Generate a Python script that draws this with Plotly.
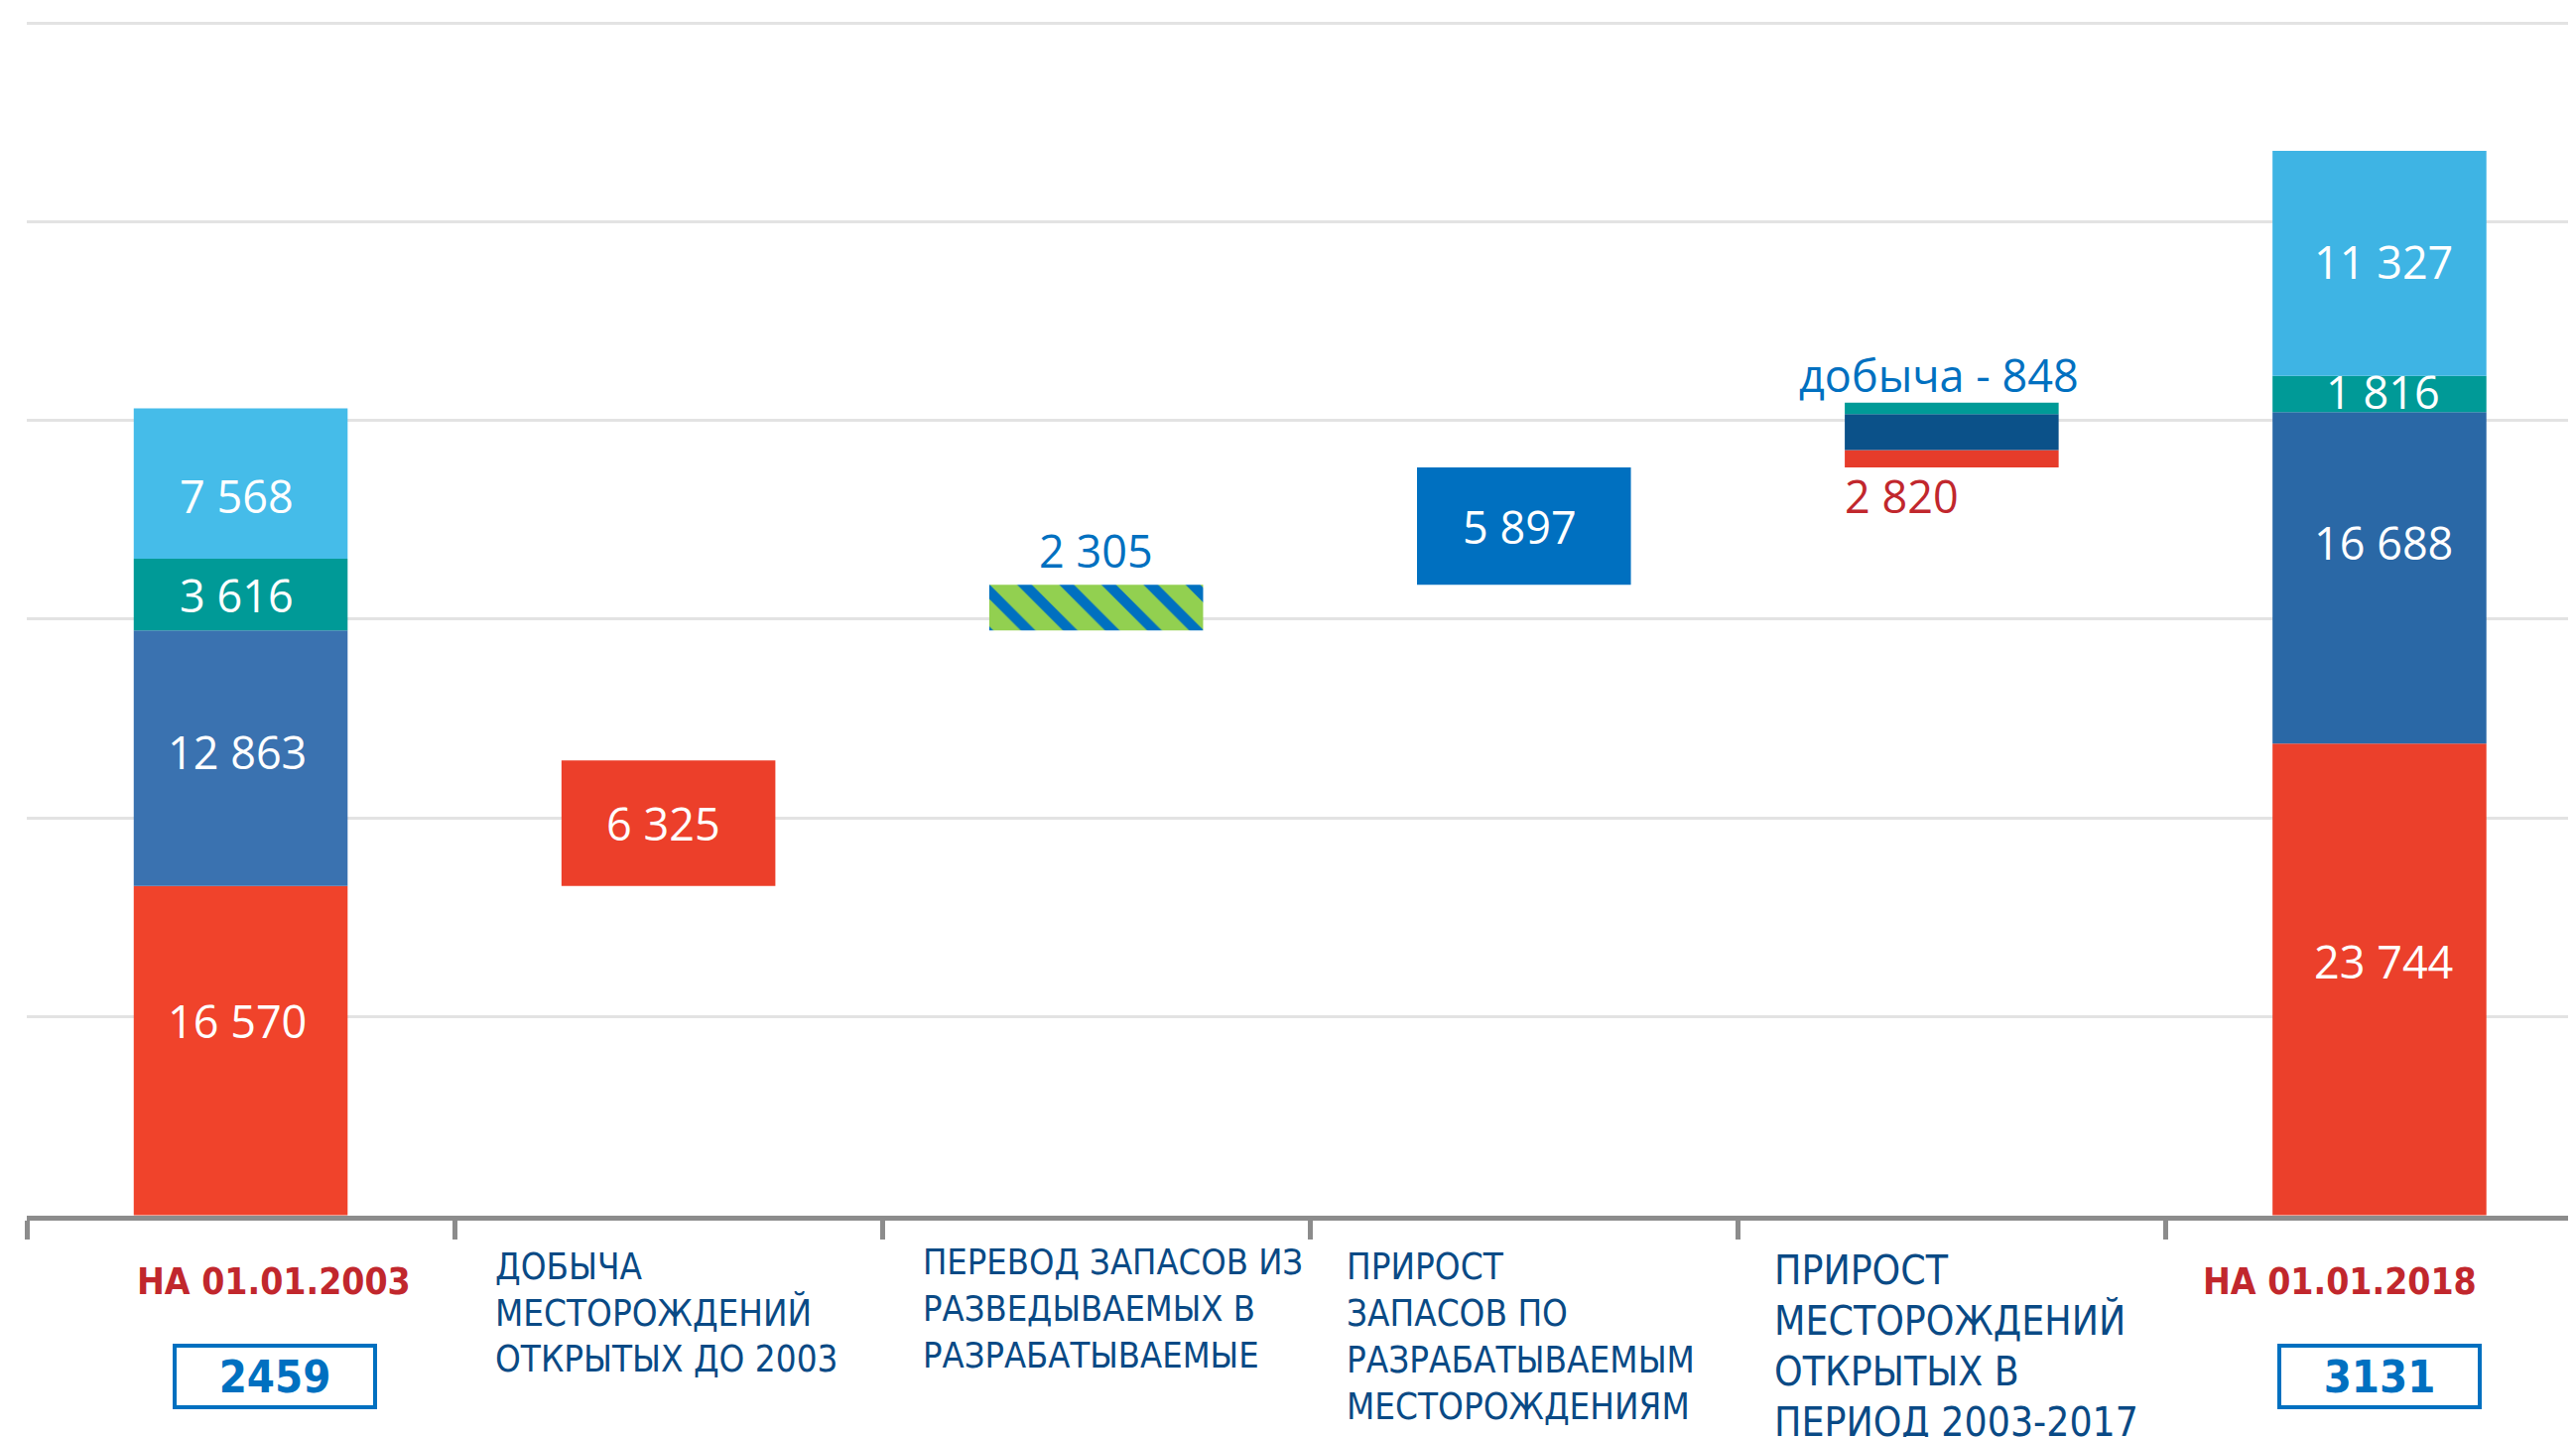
import plotly.graph_objects as go

# ---------------- data ----------------
categories = [
    "НА 01.01.2003",
    "ДОБЫЧА МЕСТОРОЖДЕНИЙ ОТКРЫТЫХ ДО 2003",
    "ПЕРЕВОД ЗАПАСОВ ИЗ РАЗВЕДЫВАЕМЫХ В РАЗРАБАТЫВАЕМЫЕ",
    "ПРИРОСТ ЗАПАСОВ ПО РАЗРАБАТЫВАЕМЫМ МЕСТОРОЖДЕНИЯМ",
    "ПРИРОСТ МЕСТОРОЖДЕНИЙ ОТКРЫТЫХ В ПЕРИОД 2003-2017",
    "НА 01.01.2018",
]
label_lines = [
    ["НА 01.01.2003"],
    ["ДОБЫЧА", "МЕСТОРОЖДЕНИЙ", "ОТКРЫТЫХ ДО 2003"],
    ["ПЕРЕВОД ЗАПАСОВ ИЗ", "РАЗВЕДЫВАЕМЫХ В", "РАЗРАБАТЫВАЕМЫЕ"],
    ["ПРИРОСТ", "ЗАПАСОВ ПО", "РАЗРАБАТЫВАЕМЫМ", "МЕСТОРОЖДЕНИЯМ"],
    ["ПРИРОСТ", "МЕСТОРОЖДЕНИЙ", "ОТКРЫТЫХ В", "ПЕРИОД 2003-2017"],
    ["НА 01.01.2018"],
]
boxed_totals = ["2459", "3131"]

# stacks bottom -> top: red, blue, teal, light blue
stack_2003 = [16570, 12863, 3616, 7568]
stack_2018 = [23744, 16688, 1816, 11327]

production = 6325          # добыча месторождений открытых до 2003
transfer = 2305            # перевод запасов
growth_developed = 5897    # прирост по разрабатываемым
new_fields_segments = [885, 1800, 585]   # red, dark blue, teal (bottom -> top)
new_fields_value = 2820
new_fields_production = 848

y_ticks = [0, 10000, 20000, 30000, 40000, 50000, 60000]

# ---------------- styles ----------------
W, H = 2596, 1448
ML, MB = 19, 231
NARROW = "Liberation Sans Narrow, DejaVu Sans Condensed, Arial Narrow, sans-serif"
VALFONT = "Open Sans, Noto Sans, sans-serif"
RED_TXT = "#C1272D"
BLUE_TXT = "#0070C0"
LABEL_BLUE = "#0A4A85"

c2003 = ["#F0432B", "#3A72B0", "#009A97", "#45BCE9"]
c2018 = ["#EB402B", "#2A68A6", "#009A97", "#3EB4E4"]
c_new = ["#E63C2B", "#0B5189", "#009A97"]


def fmt(v):
    return f"{v:,}".replace(",", " ")


def cum_bases(vals):
    out, s = [], 0
    for v in vals:
        out.append(s)
        s += v
    return out


b2003 = cum_bases(stack_2003)
b2018 = cum_bases(stack_2018)
base_prod = stack_2003[0]
base_transfer = stack_2003[0] + stack_2003[1]
base_growth = base_transfer + transfer
base_new = base_growth + growth_developed
b_new = [base_new + b for b in cum_bases(new_fields_segments)]

fig = go.Figure()
BW = 0.5

for k in range(4):
    fig.add_trace(go.Bar(
        x=[categories[0], categories[5]],
        y=[stack_2003[k], stack_2018[k]],
        base=[b2003[k], b2018[k]],
        width=BW,
        marker=dict(color=[c2003[k], c2018[k]], line=dict(width=0)),
        hoverinfo="skip",
    ))

fig.add_trace(go.Bar(x=[categories[1]], y=[production], base=[base_prod], width=BW,
                     marker=dict(color="#EC3F2A", line=dict(width=0)), hoverinfo="skip"))
fig.add_trace(go.Bar(x=[categories[2]], y=[transfer], base=[base_transfer], width=BW,
                     marker=dict(color="#92D050", line=dict(width=0),
                                 pattern=dict(shape="\\", fgcolor="#0070C0", bgcolor="#92D050",
                                              size=30, solidity=0.35, fillmode="replace")),
                     hoverinfo="skip"))
fig.add_trace(go.Bar(x=[categories[3]], y=[growth_developed], base=[base_growth], width=BW,
                     marker=dict(color="#0070C0", line=dict(width=0)), hoverinfo="skip"))
for k in range(3):
    fig.add_trace(go.Bar(x=[categories[4]], y=[new_fields_segments[k]], base=[b_new[k]], width=BW,
                         marker=dict(color=c_new[k], line=dict(width=0)), hoverinfo="skip"))

ann = []
# values inside stacked bars
nudge_2003 = [30, 7, 0, -12]
nudge_2018 = [18, 36, 2, 2]
for k in range(4):
    ann.append(dict(x=categories[0], y=b2003[k] + stack_2003[k] / 2, xref="x", yref="y",
                    text=fmt(stack_2003[k]), showarrow=False, yshift=nudge_2003[k], xshift=-4,
                    font=dict(family=VALFONT, size=45, color="white")))
    ann.append(dict(x=categories[5], y=b2018[k] + stack_2018[k] / 2, xref="x", yref="y",
                    text=fmt(stack_2018[k]), showarrow=False, yshift=nudge_2018[k], xshift=4,
                    font=dict(family=VALFONT, size=45, color="white")))

ann.append(dict(x=categories[1], y=base_prod + production / 2, xref="x", yref="y",
                text=fmt(production), showarrow=False, xshift=-5,
                font=dict(family=VALFONT, size=45, color="white")))
ann.append(dict(x=categories[3], y=base_growth + growth_developed / 2, xref="x", yref="y",
                text=fmt(growth_developed), showarrow=False, xshift=-4,
                font=dict(family=VALFONT, size=45, color="white")))
ann.append(dict(x=categories[2], y=base_transfer + transfer, xref="x", yref="y",
                text=fmt(transfer), showarrow=False, yanchor="bottom", yshift=2,
                font=dict(family=VALFONT, size=45, color=BLUE_TXT)))
top_new = base_new + sum(new_fields_segments)
ann.append(dict(x=categories[4], y=top_new, xref="x", yref="y",
                text=f"добыча - {new_fields_production}", showarrow=False, yanchor="bottom",
                yshift=-4, xshift=-13,
                font=dict(family=VALFONT, size=45, color=BLUE_TXT)))
ann.append(dict(x=categories[4], y=base_new, xref="x", yref="y",
                text=fmt(new_fields_value), showarrow=False, yanchor="top", xanchor="left",
                xshift=-110, yshift=4,
                font=dict(family=VALFONT, size=45, color=RED_TXT)))

# category labels below axis
line_style = {1: (51, 46.5, 36.5), 2: (46.5, 47, 36), 3: (51, 47, 36.5), 4: (55, 51, 40.5)}
for i, (first, step, size) in line_style.items():
    for j, line in enumerate(label_lines[i]):
        ann.append(dict(x=categories[i], xref="x", y=0, yref="paper", xanchor="left",
                        yanchor="middle", xshift=-177 if i < 3 else -181,
                        yshift=-(first + j * step),
                        text=line, showarrow=False,
                        font=dict(family=NARROW, size=size, color=LABEL_BLUE)))

for i, xs in ((0, 33), (5, -40)):
    ann.append(dict(x=categories[i], xref="x", y=0, yref="paper", yanchor="middle",
                    yshift=-66, xshift=xs, text=label_lines[i][0], showarrow=False,
                    font=dict(family=NARROW, size=37, color=RED_TXT, weight="bold")))
for i, xs, t in ((0, 34, boxed_totals[0]), (5, 0, boxed_totals[1])):
    ann.append(dict(x=categories[i], xref="x", y=0, yref="paper", yanchor="middle",
                    yshift=-162, xshift=xs, text=t, showarrow=False,
                    width=198, height=58, borderwidth=4, borderpad=0, bordercolor=BLUE_TXT,
                    font=dict(family=NARROW, size=45, color=BLUE_TXT, weight="bold")))

fig.update_layout(
    width=W, height=H,
    margin=dict(l=ML, r=0, t=0, b=MB, pad=0),
    barmode="overlay",
    showlegend=False,
    paper_bgcolor="white", plot_bgcolor="white",
    annotations=ann,
    xaxis=dict(type="category", categoryorder="array", categoryarray=categories,
               range=[-0.5, 5.478], showticklabels=False, showgrid=False,
               showline=True, linecolor="#8C8C8C", linewidth=5,
               ticks="outside", tickson="boundaries", ticklen=19, tickwidth=5,
               tickcolor="#8C8C8C", zeroline=False),
    yaxis=dict(range=[-25, 60770], tickvals=y_ticks, showticklabels=False,
               showgrid=True, gridcolor="#E3E3E3", gridwidth=3, zeroline=False,
               showline=False),
)

fig.write_html("out.html")
